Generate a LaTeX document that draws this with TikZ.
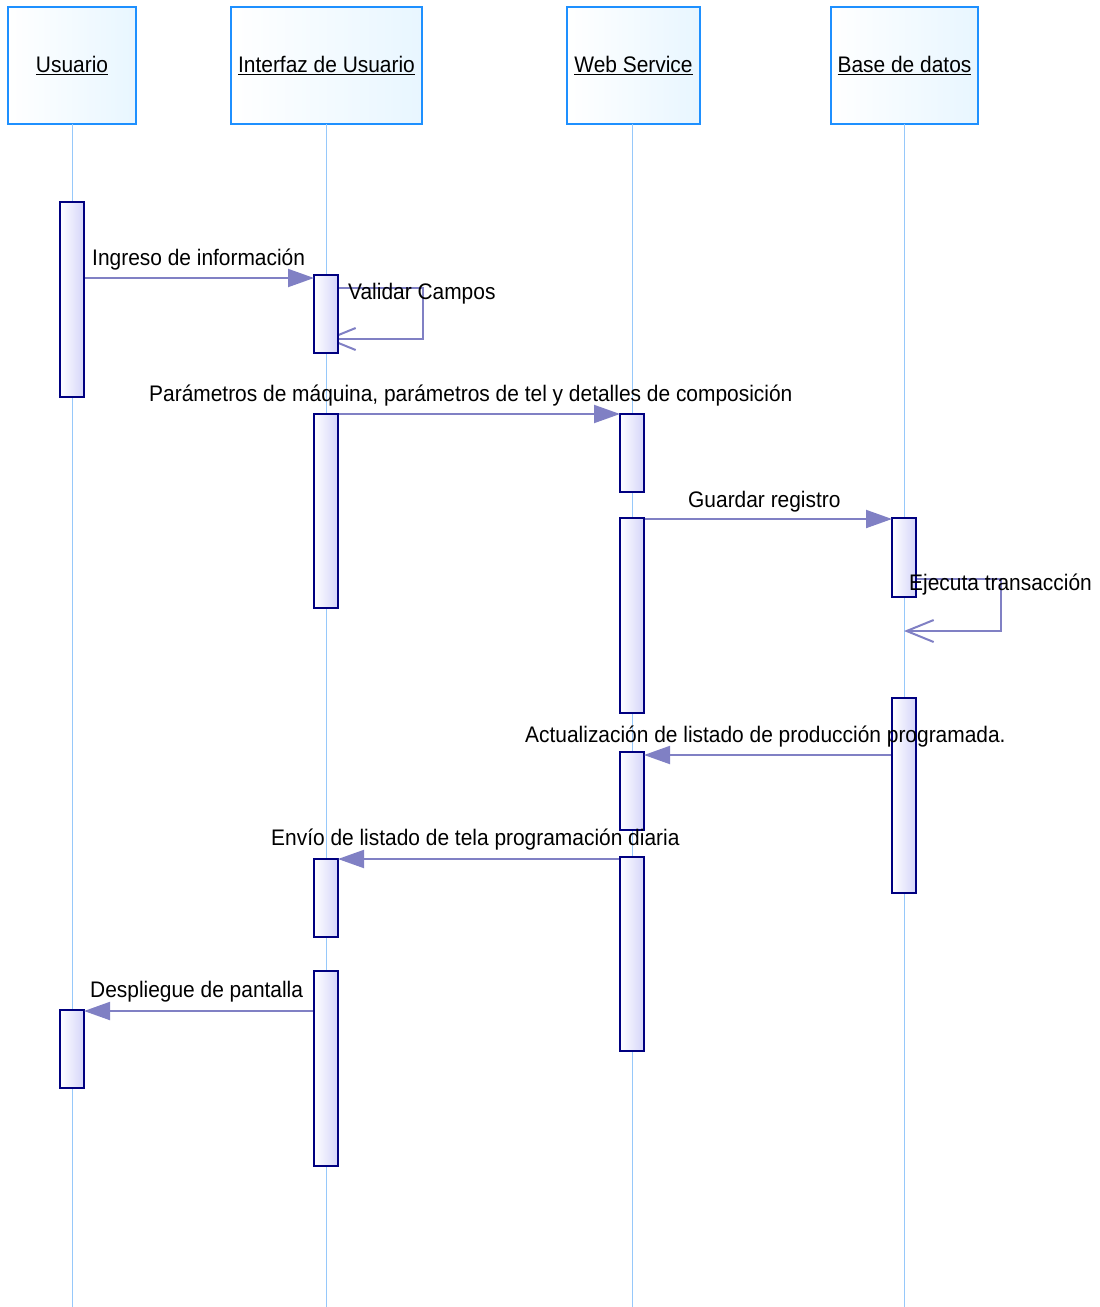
\documentclass[tikz,border=0pt]{standalone}
\usepackage{fontspec}
\setmainfont{Liberation Sans}[FakeStretch=0.93]
\usetikzlibrary{arrows.meta}
\definecolor{hdrline}{RGB}{30,144,255}
\definecolor{hdrfill}{RGB}{232,246,255}
\definecolor{lifecol}{RGB}{150,200,250}
\definecolor{actline}{RGB}{0,0,128}
\definecolor{actfill}{RGB}{212,212,250}
\definecolor{msgcol}{RGB}{128,128,196}
\tikzset{
  hdr/.style={draw=hdrline, line width=2pt, left color=white, right color=hdrfill,
    minimum height=117pt, inner sep=0pt, font=\fontsize{22.5}{27}\selectfont},
  life/.style={draw=lifecol, line width=1pt},
  act/.style={draw=actline, line width=2pt, left color=white, right color=actfill,
    minimum width=24pt, inner sep=0pt, anchor=north},
  msg/.style={draw=msgcol, line width=2pt, -{Triangle[length=26pt,width=18pt]}, shorten >=-1pt},
  selfmsg/.style={draw=msgcol, line width=2pt, -{Straight Barb[length=27pt,width=22pt]}},
  lbl/.style={anchor=base west, inner sep=0pt, font=\fontsize{22.5}{27}\selectfont}
}
\begin{document}
\begin{tikzpicture}[x=1pt,y=-1pt]
\useasboundingbox (0,0) rectangle (1100,1307);

% participants
\node[hdr, minimum width=128pt] (pu) at (72,65.5) {\underline{Usuario}};
\node[hdr, minimum width=191pt] (pi) at (326.5,65.5) {\underline{Interfaz de Usuario}};
\node[hdr, minimum width=133pt] (pw) at (633.5,65.5) {\underline{Web Service}};
\node[hdr, minimum width=147pt] (pb) at (904.5,65.5) {\underline{Base de datos}};

% lifelines
\coordinate (eu) at (72,1307);
\coordinate (ei) at (326,1307);
\coordinate (ew) at (632,1307);
\coordinate (eb) at (904,1307);
\draw[life] (72,124) -- (eu);
\draw[life] (326,124) -- (ei);
\draw[life] (632,124) -- (ew);
\draw[life] (904,124) -- (eb);

% self messages (drawn beneath activation bars)
\coordinate (vs) at (326,288);
\coordinate (ve) at (326,339);
\draw[selfmsg] (vs) -- (423,288) -- (423,339) -- (ve);
\coordinate (ts) at (904,579);
\coordinate (te) at (904,631);
\draw[selfmsg] (ts) -- (1001,579) -- (1001,631) -- (te);

% activation bars
\node[act, minimum height=195pt] (u1) at (72,201) {};
\node[act, minimum height=78pt] (u2) at (72,1009) {};
\node[act, minimum height=78pt] (i1) at (326,274) {};
\node[act, minimum height=194pt] (i2) at (326,413) {};
\node[act, minimum height=78pt] (i3) at (326,858) {};
\node[act, minimum height=195pt] (i4) at (326,970) {};
\node[act, minimum height=78pt] (w1) at (632,413) {};
\node[act, minimum height=195pt] (w2) at (632,517) {};
\node[act, minimum height=78pt] (w3) at (632,751) {};
\node[act, minimum height=194pt] (w4) at (632,856) {};
\node[act, minimum height=79pt] (b1) at (904,517) {};
\node[act, minimum height=195pt] (b2) at (904,697) {};

% messages
\draw[msg] (u1.east |- 0,278) -- (i1.west |- 0,278);
\draw[msg] (i2.east |- 0,414) -- (w1.west |- 0,414);
\draw[msg] (w2.east |- 0,519) -- (b1.west |- 0,519);
\draw[msg] (b2.west |- 0,755) -- (w3.east |- 0,755);
\draw[msg] (w4.west |- 0,859) -- (i3.east |- 0,859);
\draw[msg] (i4.west |- 0,1011) -- (u2.east |- 0,1011);

% labels
\node[lbl] (l1) at (92,265) {Ingreso de información};
\node[lbl] (l2) at (348,299) {Validar Campos};
\node[lbl] (l3) at (149,401) {Parámetros de máquina, parámetros de tel y detalles de composición};
\node[lbl] (l4) at (688,507) {Guardar registro};
\node[lbl] (l5) at (909,590) {Ejecuta transacción};
\node[lbl] (l6) at (525,742) {Actualización de listado de producción programada.};
\node[lbl] (l7) at (271,845) {Envío de listado de tela programación diaria};
\node[lbl] (l8) at (90,997) {Despliegue de pantalla};
\end{tikzpicture}
\end{document}
